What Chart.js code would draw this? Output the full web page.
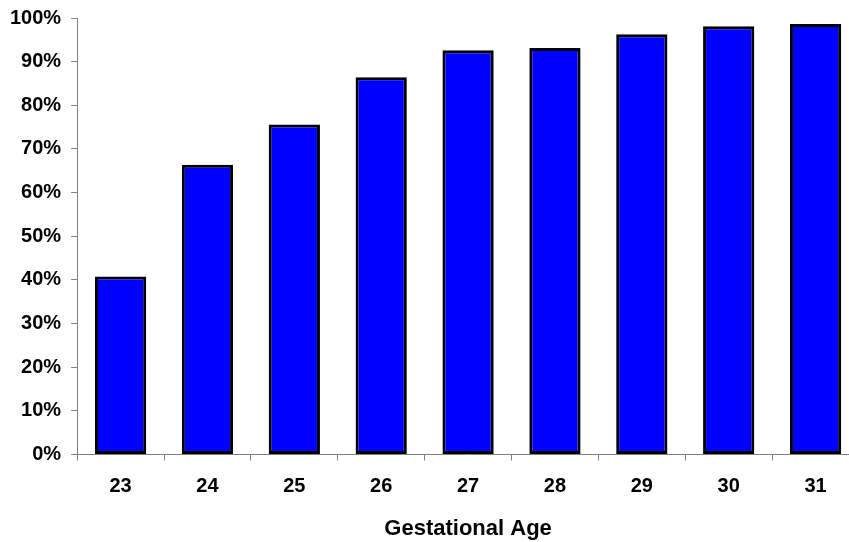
<!DOCTYPE html>
<html>
<head>
<meta charset="utf-8">
<script src="https://cdn.jsdelivr.net/npm/chart.js@4"></script>
<style>
    html, body { margin: 0; padding: 0; background: #fff; overflow: hidden; }
    #wrap { width: 860px; height: 546px; margin-top: -4px; }
</style>
</head>
<body>
<div id="wrap"><canvas id="ageChart" width="860" height="546"></canvas></div>
<script>
// Share of infants by gestational age (weeks)
const ages = ['23', '24', '25', '26', '27', '28', '29', '30', '31'];
const percentValues = [40.8, 66.4, 75.6, 86.4, 92.6, 93.1, 96.3, 98.1, 98.6];

const fontFamily = '"Liberation Sans", Arial, sans-serif';
const axisFont = { family: fontFamily, size: 20, weight: 'bold' };

window.createAgeChart = () => {
    const ctx = document.getElementById('ageChart');
    if (!ctx) return;

    window.ageChartInstance = new Chart(ctx, {
        type: 'bar',
        data: {
            labels: ages,
            datasets: [{
                data: percentValues,
                backgroundColor: '#0000ff',
                borderColor: '#000000',
                borderWidth: 3,
                borderSkipped: false,
                inflateAmount: 0,
                barPercentage: 0.59,
                categoryPercentage: 1
            }]
        },
        options: {
            responsive: false,
            animation: false,
            layout: {
                padding: { top: 1.5, left: 0, right: 1, bottom: 0 }
            },
            scales: {
                y: {
                    min: 0,
                    max: 100,
                    ticks: {
                        stepSize: 10,
                        padding: 10,
                        color: '#000',
                        font: axisFont,
                        callback: (v) => v + '%'
                    },
                    grid: {
                        drawOnChartArea: false,
                        drawTicks: true,
                        tickLength: 6,
                        color: '#808080'
                    },
                    border: { color: '#808080', width: 1 }
                },
                x: {
                    ticks: {
                        padding: 14,
                        color: '#000',
                        font: axisFont
                    },
                    grid: {
                        offset: true,
                        drawOnChartArea: false,
                        drawTicks: true,
                        tickLength: 6,
                        color: '#808080'
                    },
                    border: { color: '#808080', width: 1 },
                    title: {
                        display: true,
                        text: 'Gestational Age',
                        color: '#000',
                        font: { family: fontFamily, size: 22, weight: 'bold' },
                        padding: { top: 3.1, bottom: 0 }
                    }
                }
            },
            plugins: {
                legend: { display: false },
                tooltip: { enabled: false }
            }
        }
    });
};

window.createAgeChart();
</script>
</body>
</html>
